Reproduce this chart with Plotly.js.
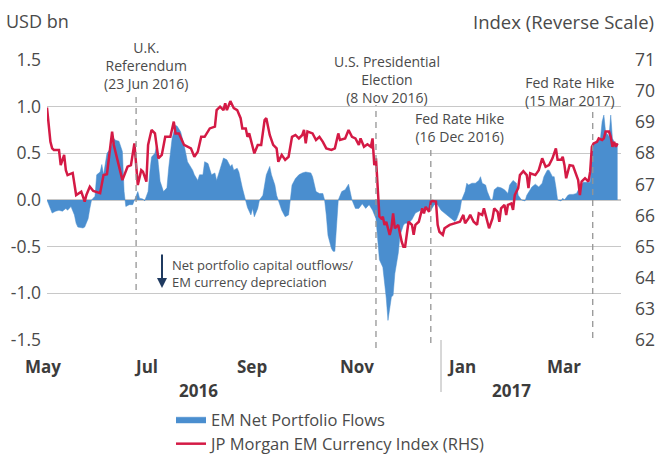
<!DOCTYPE html>
<html>
<head>
<meta charset="utf-8">
<script src="https://cdn.plot.ly/plotly-3.0.1.min.js"></script>
<style>
html,body{margin:0;padding:0;background:#fff;}
#chart{width:668px;height:455px;}
</style>
</head>
<body>
<div id="chart"></div>
<script>
// ---- Data ----
var flowDates = [
"2016-05-03","2016-05-05","2016-05-06","2016-05-08","2016-05-10","2016-05-12","2016-05-14","2016-05-15","2016-05-17","2016-05-19",
"2016-05-20","2016-05-21","2016-05-23","2016-05-24","2016-05-25","2016-05-27","2016-05-28","2016-05-29","2016-05-31","2016-06-01",
"2016-06-03","2016-06-04","2016-06-05","2016-06-06","2016-06-07","2016-06-09","2016-06-11","2016-06-12","2016-06-14","2016-06-16",
"2016-06-17","2016-06-18","2016-06-20","2016-06-22","2016-06-23","2016-06-25","2016-06-26","2016-06-28","2016-06-29","2016-07-01",
"2016-07-02","2016-07-03","2016-07-05","2016-07-06","2016-07-07","2016-07-08","2016-07-10","2016-07-12","2016-07-13","2016-07-15",
"2016-07-17","2016-07-18","2016-07-20","2016-07-22","2016-07-24","2016-07-25","2016-07-27","2016-07-28","2016-07-30","2016-07-31",
"2016-08-02","2016-08-03","2016-08-05","2016-08-07","2016-08-09","2016-08-10","2016-08-12","2016-08-14","2016-08-16","2016-08-18",
"2016-08-19","2016-08-20","2016-08-22","2016-08-23","2016-08-25","2016-08-27","2016-08-28","2016-08-30","2016-08-31","2016-09-01",
"2016-09-03","2016-09-04","2016-09-06","2016-09-08","2016-09-10","2016-09-11","2016-09-13","2016-09-14","2016-09-15","2016-09-17",
"2016-09-19","2016-09-21","2016-09-22","2016-09-23","2016-09-25","2016-09-27","2016-09-29","2016-10-01","2016-10-04","2016-10-05",
"2016-10-07","2016-10-09","2016-10-11","2016-10-12","2016-10-13","2016-10-14","2016-10-16","2016-10-17","2016-10-18","2016-10-19",
"2016-10-20","2016-10-22","2016-10-24","2016-10-26","2016-10-27","2016-10-28","2016-10-30","2016-11-01","2016-11-03","2016-11-05",
"2016-11-07","2016-11-09","2016-11-11","2016-11-12","2016-11-13","2016-11-15","2016-11-16","2016-11-17","2016-11-18","2016-11-20",
"2016-11-21","2016-11-22","2016-11-24","2016-11-25","2016-11-27","2016-11-28","2016-11-30","2016-12-02","2016-12-04","2016-12-05",
"2016-12-07","2016-12-09","2016-12-11","2016-12-13","2016-12-15","2016-12-17","2016-12-19","2016-12-21","2016-12-23","2016-12-25",
"2016-12-27","2016-12-28","2016-12-30","2016-12-31","2017-01-02","2017-01-03","2017-01-04","2017-01-06","2017-01-08","2017-01-10",
"2017-01-11","2017-01-12","2017-01-14","2017-01-15","2017-01-17","2017-01-18","2017-01-19","2017-01-21","2017-01-23","2017-01-25",
"2017-01-27","2017-01-28","2017-01-30","2017-02-01","2017-02-02","2017-02-04","2017-02-06","2017-02-07","2017-02-09","2017-02-10",
"2017-02-12","2017-02-14","2017-02-16","2017-02-17","2017-02-19","2017-02-20","2017-02-22","2017-02-23","2017-02-24","2017-02-25",
"2017-02-27","2017-02-28","2017-03-01","2017-03-03","2017-03-04","2017-03-06","2017-03-08","2017-03-10","2017-03-12","2017-03-14",
"2017-03-16","2017-03-17","2017-03-18","2017-03-20","2017-03-22","2017-03-23","2017-03-24","2017-03-25","2017-03-27","2017-03-28",
"2017-03-29","2017-03-31","2017-04-01"
];
var flowValues = [
0,-0.09,-0.14,-0.12,-0.11,-0.12,-0.09,-0.11,-0.07,-0.16,
-0.25,-0.29,-0.30,-0.30,-0.29,-0.20,-0.09,0,0.04,0.27,
0.30,0.38,0.27,0.39,0.50,0.55,0.66,0.64,0.63,0.52,
0.09,-0.07,-0.05,-0.05,0,0.09,0.02,0.01,-0.01,0.09,
0.30,0.46,0.50,0.59,0.38,0.20,0.09,0.13,0.34,0.66,
0.80,0.79,0.73,0.59,0.41,0.38,0.32,0.27,0.21,0.27,
0.27,0.41,0.39,0.27,0.29,0.21,0.34,0.45,0.43,0.36,
0.38,0.32,0.34,0.30,0.13,0,-0.08,-0.16,-0.09,-0.18,
-0.09,0,0.05,0.27,0.36,0.27,0.16,0.05,-0.01,-0.11,
-0.18,-0.16,0,0.16,0.23,0.27,0.29,0.30,0.29,0.25,
0.09,0.07,0.07,0,-0.16,-0.38,-0.52,-0.55,-0.55,-0.30,
0,0.09,0.11,0.17,0.09,0,-0.09,-0.09,-0.04,-0.09,
-0.05,-0.11,-0.20,-0.41,-0.64,-0.72,-0.88,-1.05,-1.29,-1.04,
-1.02,-0.79,-0.57,-0.38,-0.27,-0.25,-0.25,-0.21,-0.14,-0.13,
-0.11,-0.09,-0.11,-0.11,-0.05,-0.05,-0.11,-0.14,-0.18,-0.20,
-0.23,-0.21,-0.11,0,0.09,0.18,0.16,0.18,0.18,0.21,
0.25,0.18,0.16,0.09,0,0,0.11,0.14,0.13,0.11,
0.07,0.16,0.21,0.18,0.05,0,-0.01,0.05,0.11,0.14,
0.17,0.14,0.18,0.25,0.32,0.32,0.25,0.25,0.14,0,
-0.01,0.02,0,0.05,0.06,0.06,0.07,0.14,0.19,0.19,
0.19,0.54,0.61,0.63,0.66,0.84,0.91,0.73,0.68,0.91,
0.66,0.59,0.61
];

var fxDates = [
"2016-05-03","2016-05-05","2016-05-06","2016-05-07","2016-05-10","2016-05-11","2016-05-13","2016-05-14","2016-05-15","2016-05-18",
"2016-05-20","2016-05-23","2016-05-25","2016-05-26","2016-05-28","2016-05-30","2016-06-03","2016-06-05","2016-06-07","2016-06-10",
"2016-06-11","2016-06-13","2016-06-16","2016-06-19","2016-06-21","2016-06-23","2016-06-25","2016-06-27","2016-06-28","2016-06-30",
"2016-07-01","2016-07-03","2016-07-05","2016-07-07","2016-07-09","2016-07-11","2016-07-14","2016-07-16","2016-07-17","2016-07-19",
"2016-07-22","2016-07-26","2016-07-28","2016-07-30","2016-08-01","2016-08-03","2016-08-06","2016-08-09","2016-08-10","2016-08-12",
"2016-08-14","2016-08-15","2016-08-16","2016-08-18","2016-08-20","2016-08-22","2016-08-24","2016-08-25","2016-08-27","2016-08-28",
"2016-08-29","2016-08-31","2016-09-01","2016-09-03","2016-09-05","2016-09-07","2016-09-08","2016-09-10","2016-09-12","2016-09-14",
"2016-09-15","2016-09-17","2016-09-19","2016-09-21","2016-09-23","2016-09-25","2016-09-27","2016-09-29","2016-09-30","2016-10-01",
"2016-10-02","2016-10-05","2016-10-07","2016-10-09","2016-10-11","2016-10-13","2016-10-16","2016-10-18","2016-10-20","2016-10-21",
"2016-10-24","2016-10-26","2016-10-28","2016-10-30","2016-11-01","2016-11-02","2016-11-04","2016-11-06","2016-11-08","2016-11-09",
"2016-11-10","2016-11-11","2016-11-12","2016-11-13","2016-11-14","2016-11-15","2016-11-16","2016-11-17","2016-11-19","2016-11-20",
"2016-11-21","2016-11-22","2016-11-24","2016-11-25","2016-11-26","2016-11-27","2016-11-28","2016-11-30","2016-12-02","2016-12-03",
"2016-12-04","2016-12-06","2016-12-08","2016-12-09","2016-12-10","2016-12-12","2016-12-13","2016-12-14","2016-12-16","2016-12-17",
"2016-12-18","2016-12-20","2016-12-21","2016-12-24","2016-12-27","2016-12-30","2017-01-01","2017-01-02","2017-01-04","2017-01-05",
"2017-01-07","2017-01-09","2017-01-10","2017-01-12","2017-01-13","2017-01-15","2017-01-16","2017-01-18","2017-01-19","2017-01-21",
"2017-01-22","2017-01-23","2017-01-25","2017-01-26","2017-01-27","2017-01-29","2017-01-30","2017-01-31","2017-02-02","2017-02-03",
"2017-02-05","2017-02-07","2017-02-08","2017-02-09","2017-02-12","2017-02-14","2017-02-16","2017-02-18","2017-02-20","2017-02-22",
"2017-02-24","2017-02-25","2017-02-27","2017-02-28","2017-03-01","2017-03-02","2017-03-04","2017-03-06","2017-03-08","2017-03-09",
"2017-03-10","2017-03-11","2017-03-13","2017-03-15","2017-03-16","2017-03-17","2017-03-18","2017-03-20","2017-03-21","2017-03-23",
"2017-03-24","2017-03-25","2017-03-27","2017-03-28","2017-03-29","2017-03-30","2017-03-31","2017-04-01"
];
var fxValues = [
69.47,68.37,68.16,68.11,68.11,67.62,67.95,67.46,67.30,67.37,
66.66,66.77,66.45,66.66,66.93,66.79,66.72,67.30,67.33,68.70,
68.27,67.79,67.14,67.57,67.62,68.32,66.98,67.46,67.41,67.09,
68.27,68.75,68.64,67.84,67.95,68.53,68.53,69.02,68.64,68.64,
68.27,68.16,67.89,68.05,68.53,68.53,68.80,68.86,69.39,69.50,
69.39,69.61,69.39,69.68,69.45,69.39,69.13,68.80,68.80,68.53,
68.64,68.21,68.00,68.27,68.27,69.07,69.13,68.59,68.27,68.16,
67.73,67.95,67.79,67.89,68.53,68.59,68.48,68.59,68.75,68.32,
68.70,68.64,68.43,68.53,68.37,68.16,68.11,68.16,68.64,68.43,
68.48,68.75,68.53,68.48,68.27,68.48,68.21,68.29,68.21,68.48,
67.62,67.84,66.98,65.97,65.91,65.96,65.70,65.80,65.38,65.59,
66.07,65.59,65.70,65.38,65.16,65.00,65.00,65.80,65.70,65.38,
65.70,65.80,66.23,66.07,66.28,66.12,66.45,66.47,66.45,65.70,
65.48,65.38,65.59,65.70,65.75,65.80,66.02,65.75,65.91,66.02,
65.80,65.70,66.07,66.02,66.23,65.80,65.59,65.91,66.23,66.12,
65.80,66.23,66.34,66.02,66.34,66.39,66.18,66.66,66.88,67.30,
67.43,67.30,66.88,67.36,67.30,67.46,67.84,67.57,67.62,67.84,
68.16,67.79,67.79,67.89,67.62,67.20,67.62,67.60,67.30,67.14,
66.66,67.09,67.20,67.09,67.41,68.21,68.32,68.37,68.48,68.43,
68.48,68.70,68.70,68.53,68.21,68.37,68.21,68.32
];

var seriesNames = ["EM Net Portfolio Flows", "JP Morgan EM Currency Index (RHS)"];
var leftTickVals = [-1.5,-1.0,-0.5,0,0.5,1.0,1.5];
var leftTickText = ["-1.5","-1.0","-0.5","0.0","0.5","1.0","1.5"];
var rightTickVals = [62,63,64,65,66,67,68,69,70,71];
var monthTickText = ["May","Jul","Sep","Nov","Jan","Mar"];
var yearLabels = ["2016","2017"];
var eventLineDates = ["2016-06-24","2016-11-11","2016-12-13","2017-03-17 12:00"];
var eventLabels = [
  "U.K.<br>Referendum<br>(23 Jun 2016)",
  "U.S. Presidential<br>Election<br>(8 Nov 2016)",
  "Fed Rate Hike<br>(16 Dec 2016)",
  "Fed Rate Hike<br>(15 Mar 2017)"
];
var arrowNote = "Net portfolio capital outflows/<br>EM currency depreciation";

// ---- Styling / layout ----
var FONT = "'Open Sans', 'Noto Sans', sans-serif";
var TXT = "#4a4a4a";
var BLUE = "#4a8ecf";
var RED = "#d41a45";
var DASH = "#959595";

// plot area pixel frame: left 47, right 621, top 60, bottom 340
var PL = 47, PR = 621, PT = 60, PB = 340, W = 668, H = 455;
function px(x){ return (x - PL) / (PR - PL); }
function py(y){ return (PB - y) / (PB - PT); }

var traces = [
  {
    x: flowDates, y: flowValues, name: seriesNames[0],
    type: "scatter", mode: "lines", fill: "tozeroy",
    fillcolor: BLUE, line: {color: BLUE, width: 0.5},
    yaxis: "y", hoverinfo: "skip"
  },
  {
    x: fxDates, y: fxValues, name: seriesNames[1],
    type: "scatter", mode: "lines",
    line: {color: RED, width: 2.5},
    yaxis: "y2", hoverinfo: "skip"
  }
];

var annotations = [];
// axis titles
annotations.push({xref:"paper", yref:"paper", x:px(4), y:py(21), xanchor:"left", yanchor:"middle",
  text:"USD bn", showarrow:false, font:{family:FONT, size:18, color:TXT}});
annotations.push({xref:"paper", yref:"paper", x:px(656), y:py(21), xanchor:"right", yanchor:"middle",
  text:"Index (Reverse Scale)", showarrow:false, font:{family:FONT, size:18.5, color:TXT}});

// month labels (centres in pixels of the reference)
var monthX = [43, 146, 252, 357, 461, 564];
for (var i = 0; i < monthTickText.length; i++) {
  annotations.push({xref:"paper", yref:"paper", x:px(monthX[i]), y:py(366), xanchor:"center", yanchor:"middle",
    text:"<b>"+monthTickText[i]+"</b>", showarrow:false, font:{family:FONT, size:17, color:"#3c3c3c"}});
}
// year labels
var yearX = [198, 511];
for (var j = 0; j < yearLabels.length; j++) {
  annotations.push({xref:"paper", yref:"paper", x:px(yearX[j]), y:py(390), xanchor:"center", yanchor:"middle",
    text:"<b>"+yearLabels[j]+"</b>", showarrow:false, font:{family:FONT, size:17, color:"#3c3c3c"}});
}

// event labels
var evX = [146, 387, 459, 570];
var evY = [65, 79, 127, 91];
for (var e = 0; e < eventLabels.length; e++) {
  annotations.push({xref:"paper", yref:"paper", x:px(evX[e]), y:py(evY[e]), xanchor:"center", yanchor:"middle",
    text:eventLabels[e], showarrow:false, align:"center", font:{family:FONT, size:14, color:TXT}});
}

// arrow and note
annotations.push({xref:"paper", yref:"paper", x:px(162), y:py(288), ax:0, ay:-35,
  text:"", showarrow:true, arrowhead:2, arrowsize:1, arrowwidth:2, arrowcolor:"#1f3a60", standoff:0});
annotations.push({xref:"paper", yref:"paper", x:px(170), y:py(273), xanchor:"left", yanchor:"middle",
  text:arrowNote, showarrow:false, align:"left", font:{family:FONT, size:13, color:TXT}});

var evTop = [92, 105, 145, 110];
var evBot = [290, 348, 343, 338];
var shapes = [];
for (var s = 0; s < eventLineDates.length; s++) {
  shapes.push({type:"line", xref:"x", yref:"paper", x0:eventLineDates[s], x1:eventLineDates[s],
    y0:py(evBot[s]), y1:py(evTop[s]), line:{color:DASH, width:1.3, dash:"6px,5px"}});
}
// year separator
shapes.push({type:"line", xref:"paper", yref:"paper", x0:px(441), x1:px(441), y0:py(340), y1:py(392),
  line:{color:"#b0b0b0", width:1}});

var layout = {
  width: W, height: H,
  margin: {l: PL, r: W - PR, t: PT, b: H - PB, pad: 0, autoexpand: false},
  paper_bgcolor: "#fff", plot_bgcolor: "#fff",
  font: {family: FONT, size: 16, color: TXT},
  showlegend: true,
  legend: {x: px(171), y: py(402), xanchor: "left", yanchor: "top",
    orientation: "v", font: {family: FONT, size: 16.5, color: TXT}, bgcolor: "rgba(0,0,0,0)", tracegroupgap: 0},
  xaxis: {
    type: "date", range: ["2016-05-03", "2017-04-03"],
    showgrid: false, zeroline: false, showline: false, showticklabels: false, ticks: ""
  },
  yaxis: {
    range: [-1.5, 1.5], tickvals: leftTickVals, ticktext: leftTickText,
    showgrid: true, gridcolor: "#c8c8c8", gridwidth: 1.2, zeroline: false, showline: false,
    ticks: "", ticklabelstandoff: 5, tickfont: {family: FONT, size: 17.5, color: TXT}
  },
  yaxis2: {
    overlaying: "y", side: "right", range: [62, 71], tickvals: rightTickVals,
    showgrid: false, zeroline: false, showline: false,
    ticks: "", ticklabelstandoff: 13, tickfont: {family: FONT, size: 17.5, color: TXT}
  },
  annotations: annotations,
  shapes: shapes
};

Plotly.newPlot("chart", traces, layout, {displayModeBar: false, staticPlot: true});
</script>
</body>
</html>
